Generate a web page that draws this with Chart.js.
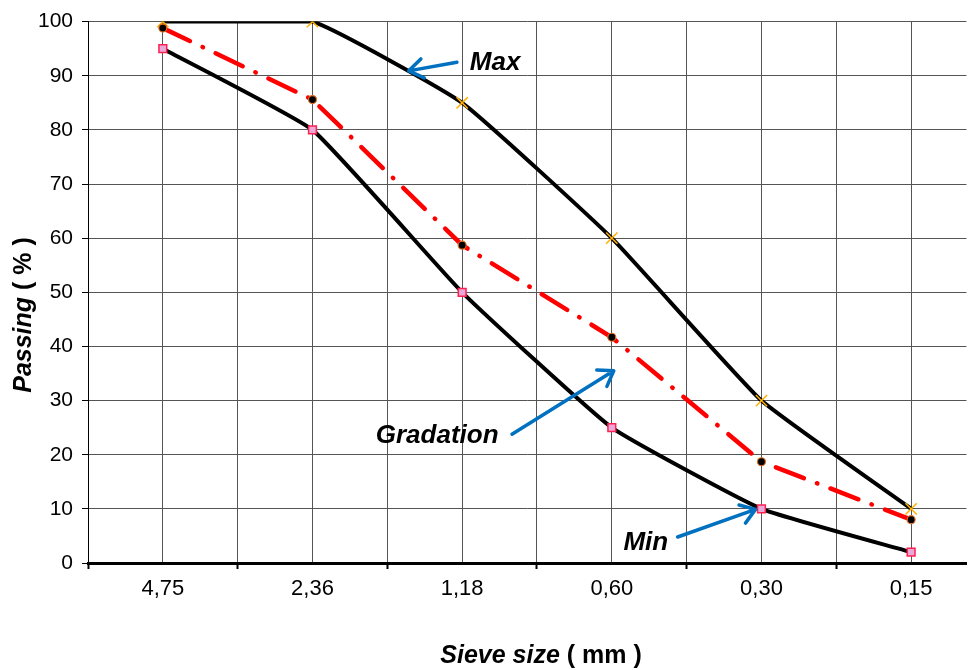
<!DOCTYPE html>
<html>
<head>
<meta charset="utf-8">
<script src="https://cdn.jsdelivr.net/npm/chart.js@4.4.1/dist/chart.umd.min.js"></script>
<style>
  html, body { margin: 0; padding: 0; background: #fff; }
  #wrap { width: 976px; height: 670px; }
</style>
</head>
<body>
<div id="wrap"><canvas id="sieveChart" width="976" height="670"></canvas></div>
<script>
// sieve sizes (category labels) and passing values
const sieveSizes = ['4,75', '2,36', '1,18', '0,60', '0,30', '0,15'];
const maxPassing = [100, 100, 85, 60, 30, 10];
const minPassing = [95, 80, 50, 25, 10, 2];
const gradation = [98.8, 85.6, 58.7, 41.7, 18.7, 8.0];
const yTickValues = [0, 10, 20, 30, 40, 50, 60, 70, 80, 90, 100];

// callouts, in axis units (x: category index, y: passing %)
const callouts = [
    { text: 'Max', x: 2.72, y: 92.3, from: [2.465, 92.5], to: [2.143, 90.9] },
    { text: 'Gradation', x: 2.333, y: 23.4, from: [2.833, 23.8], to: [3.513, 35.5] },
    { text: 'Min', x: 3.727, y: 3.7, from: [3.94, 4.8], to: [4.46, 9.9] }
];

const FONT = '"Liberation Sans", Arial, sans-serif';

function toPoints(values) {
    return values.map((v, i) => ({ x: i + 0.5, y: v }));
}

const titlesAndCallouts = {
    id: 'titlesAndCallouts',
    afterDatasetsDraw(chart) {
        const c = chart.ctx;
        const xs = chart.scales.x, ys = chart.scales.y;

        // callout arrows
        c.save();
        c.strokeStyle = '#0070C0';
        c.lineWidth = 3.5;
        c.lineCap = 'round';
        c.lineJoin = 'round';
        callouts.forEach(a => {
            const x1 = xs.getPixelForValue(a.from[0]), y1 = ys.getPixelForValue(a.from[1]);
            const x2 = xs.getPixelForValue(a.to[0]), y2 = ys.getPixelForValue(a.to[1]);
            const ang = Math.atan2(y2 - y1, x2 - x1);
            c.beginPath();
            c.moveTo(x1, y1);
            c.lineTo(x2, y2);
            c.moveTo(x2 - 17 * Math.cos(ang - 0.6), y2 - 17 * Math.sin(ang - 0.6));
            c.lineTo(x2, y2);
            c.lineTo(x2 - 17 * Math.cos(ang + 0.6), y2 - 17 * Math.sin(ang + 0.6));
            c.stroke();
        });

        c.fillStyle = '#000';
        c.font = 'italic bold 26px ' + FONT;
        c.textAlign = 'center';
        c.textBaseline = 'middle';
        callouts.forEach(a => {
            c.fillText(a.text, xs.getPixelForValue(a.x), ys.getPixelForValue(a.y));
        });
        c.restore();

        // axis titles with mixed styles
        drawMixed(c, [['Sieve size', 'italic bold 25px '], [' ( mm )', 'bold 25px ']], 541, 663, 0);
        drawMixed(c, [['Passing', 'italic bold 25px '], [' ( % )', 'bold 25px ']], 31, 315, -Math.PI / 2);
    }
};

function drawMixed(c, parts, cx, baseY, rot) {
    c.save();
    c.fillStyle = '#000';
    c.textBaseline = 'alphabetic';
    c.textAlign = 'left';
    let total = 0;
    parts.forEach(p => { c.font = p[1] + FONT; total += c.measureText(p[0]).width; });
    if (rot) {
        c.translate(cx, baseY);
        c.rotate(rot);
        let x = -total / 2;
        parts.forEach(p => { c.font = p[1] + FONT; c.fillText(p[0], x, 0); x += c.measureText(p[0]).width; });
    } else {
        let x = cx - total / 2;
        parts.forEach(p => { c.font = p[1] + FONT; c.fillText(p[0], x, baseY); x += c.measureText(p[0]).width; });
    }
    c.restore();
}

const ctx = document.getElementById('sieveChart').getContext('2d');
new Chart(ctx, {
    type: 'line',
    data: {
        datasets: [{
            label: 'Max',
            data: toPoints(maxPassing),
            borderColor: '#000',
            borderWidth: 4,
            tension: 0.12,
            pointStyle: 'crossRot',
            pointRadius: 8,
            pointBorderColor: '#FFB000',
            pointBorderWidth: 1.5,
            order: 2
        }, {
            label: 'Min',
            data: toPoints(minPassing),
            borderColor: '#000',
            borderWidth: 4,
            tension: 0.12,
            pointStyle: 'rect',
            pointRadius: 5.5,
            pointBackgroundColor: '#E8A8D8',
            pointBorderColor: '#FF2050',
            pointBorderWidth: 1.5,
            order: 3
        }, {
            label: 'Gradation',
            data: toPoints(gradation),
            borderColor: '#FF0000',
            borderWidth: 4.5,
            borderDash: [30, 14, 0.5, 14],
            borderCapStyle: 'round',
            tension: 0,
            pointStyle: 'circle',
            pointRadius: 4,
            pointBackgroundColor: '#000',
            pointBorderColor: '#E07020',
            pointBorderWidth: 1.2,
            order: 1
        }]
    },
    options: {
        responsive: false,
        animation: false,
        layout: { padding: { top: 20, right: 0, left: 0, bottom: 0 } },
        plugins: {
            legend: { display: false },
            tooltip: { enabled: false }
        },
        scales: {
            x: {
                type: 'linear',
                min: 0,
                max: 5.87,
                afterFit(scale) { scale.height = 107; },
                afterBuildTicks(scale) {
                    const t = [];
                    for (let v = 0; v <= 5.5; v += 0.5) t.push({ value: v });
                    scale.ticks = t;
                },
                ticks: {
                    padding: 7,
                    maxRotation: 0,
                    autoSkip: false,
                    color: '#000',
                    font: { family: FONT, size: 22 },
                    callback: v => (v % 1 === 0.5 ? sieveSizes[Math.floor(v)] : '')
                },
                grid: {
                    color: '#555',
                    lineWidth: 1,
                    tickLength: 6,
                    tickWidth: 2,
                    tickColor: c => (c.tick && c.tick.value % 1 === 0 ? '#000' : 'rgba(0,0,0,0)')
                },
                border: { color: '#000', width: 3 }
            },
            y: {
                min: 0,
                max: 100,
                afterFit(scale) { scale.width = 88; },
                afterBuildTicks(scale) {
                    scale.ticks = yTickValues.map(v => ({ value: v }));
                },
                ticks: {
                    padding: 9,
                    color: '#000',
                    font: { family: FONT, size: 21 }
                },
                grid: {
                    color: '#555',
                    lineWidth: 1,
                    tickLength: 6,
                    tickColor: '#000'
                },
                border: { color: '#000', width: 1 }
            }
        }
    },
    plugins: [titlesAndCallouts]
});
</script>
</body>
</html>
